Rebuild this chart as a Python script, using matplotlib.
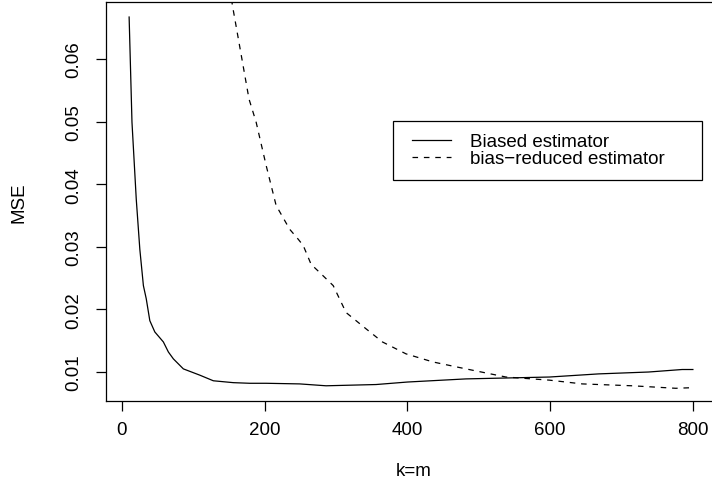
import matplotlib
matplotlib.use('Agg')
import matplotlib.pyplot as plt
from matplotlib.legend_handler import HandlerLine2D
import numpy as np

plt.rcParams['font.family'] = ['Liberation Sans', 'DejaVu Sans']
plt.rcParams['font.size'] = 13.5
plt.rcParams['lines.scale_dashes'] = False

# values
k_biased = [10, 14, 20, 25, 30, 34, 39, 46, 58, 65, 72, 86, 109, 128, 156, 179, 202,
            249, 286, 356, 400, 482, 599, 668, 738, 785, 800]
mse_biased = [0.0667, 0.0499, 0.0376, 0.0296, 0.0238, 0.0217, 0.0182, 0.0164, 0.0148,
              0.0132, 0.0121, 0.0105, 0.0095, 0.0086, 0.0083, 0.0082, 0.0082,
              0.0081, 0.0078, 0.0080, 0.0084, 0.0089, 0.0092, 0.0097, 0.0100, 0.0104, 0.0104]

k_reduced = [150, 155, 178, 188, 202, 216, 235, 247, 254, 265, 277, 296, 314, 342, 365,
             398, 436, 482, 538, 599, 645, 715, 776, 800]
mse_reduced = [0.0720, 0.0684, 0.0536, 0.0499, 0.0430, 0.0366, 0.0328, 0.0312, 0.0302,
               0.0272, 0.0259, 0.0238, 0.0195, 0.0169, 0.0148, 0.0129, 0.0116, 0.0105,
               0.0092, 0.0087, 0.0081, 0.0078, 0.0074, 0.0075]

xticks = [0, 200, 400, 600, 800]
yticks = [0.01, 0.02, 0.03, 0.04, 0.05, 0.06]


class RightLine(HandlerLine2D):
    # legend line only over the right 39 px of the handle box (R has a wider left inset)
    def get_xdata(self, legend, xdescent, ydescent, width, height, fontsize):
        x = np.array([-xdescent + width - 28.1, -xdescent + width])
        return x, x


W, H = 712, 481
fig = plt.figure(figsize=(W / 100, H / 100), dpi=100)
# the right edge of the box is cut off in the original, so the axes run past the figure
ax = fig.add_axes([106 / W, (H - 402) / H, (722 - 106) / W, (402 - 3) / H])

ax.plot(k_biased, mse_biased, color='black', lw=0.9, label='Biased estimator')
ax.plot(k_reduced, mse_reduced, color='black', lw=0.9, dashes=(4, 4.2),
        label='bias\u2212reduced estimator')

# x = 0 at px 122, x = 800 at px 694
ax.set_xlim(-22.4, 840.8)
ax.set_ylim(0.00537, 0.0691)
ax.set_xticks(xticks)
ax.set_xticklabels([str(t) for t in xticks])
ax.set_yticks(yticks)
ax.set_yticklabels(['%.2f' % t for t in yticks], rotation=90, va='center')
ax.tick_params(axis='both', direction='out', length=7.2, width=0.9, colors='black')
ax.tick_params(axis='x', pad=7.3)
ax.tick_params(axis='y', pad=9.6)
for s in ax.spines.values():
    s.set_linewidth(0.9)
ax.spines['right'].set_visible(False)

ax.set_xlabel('k=m', labelpad=17.5)
ax.set_ylabel('MSE', labelpad=27.5)

aw, ah = 616, 399
leg = ax.legend(loc='upper left',
                bbox_to_anchor=((393 - 106) / aw, 1 - (122 - 3) / ah, 309 / aw, 0.0),
                mode='expand', fancybox=False, edgecolor='black', framealpha=1,
                borderaxespad=0, handlelength=2.46, handletextpad=1.0,
                labelspacing=0.0, borderpad=0.65,
                handler_map={plt.Line2D: RightLine()})
leg.get_frame().set_linewidth(0.9)

fig.savefig('out.png', dpi=100)
